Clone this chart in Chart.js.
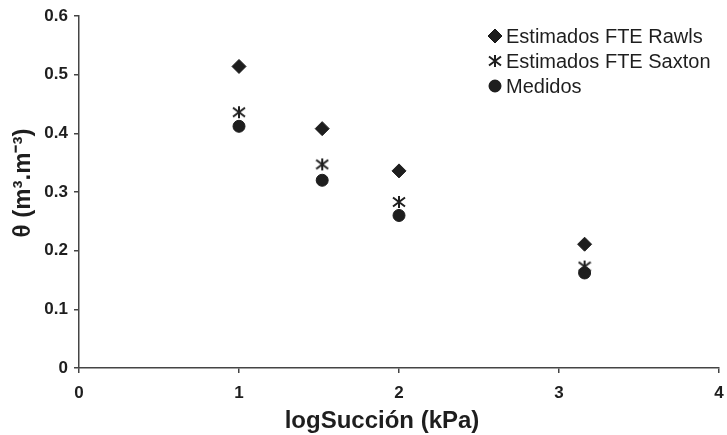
<!DOCTYPE html>
<html>
<head>
<meta charset="utf-8">
<script src="https://cdn.jsdelivr.net/npm/chart.js@4/dist/chart.umd.min.js"></script>
<style>
  html, body { margin: 0; padding: 0; background: #fff; }
  #wrap { width: 727px; height: 435px; }
</style>
</head>
<body>
<div id="wrap"><canvas id="chart" width="727" height="435"></canvas></div>
<script>
// valores
const suction = [1, 1.52, 2, 3.16];
const rawls = [0.514, 0.408, 0.336, 0.211];
const saxton = [0.436, 0.347, 0.283, 0.173];
const medidos = [0.412, 0.320, 0.260, 0.162];
const seriesNames = ['Estimados FTE Rawls', 'Estimados FTE Saxton', 'Medidos'];
const xTitle = 'logSucción (kPa)';
const yTitle = 'θ (m³.m⁻³)';

const ink = '#1e1e1e';

// asterisco: vertical + dos diagonales
function asterisk(size) {
    const c = document.createElement('canvas');
    c.width = size; c.height = size;
    const g = c.getContext('2d');
    g.strokeStyle = ink;
    g.lineWidth = 2;
    const m = size / 2, r = size / 2 - 1;
    g.beginPath();
    g.moveTo(m, m - r); g.lineTo(m, m + r);
    g.moveTo(m - r, m - r * 0.75); g.lineTo(m + r, m + r * 0.75);
    g.moveTo(m + r, m - r * 0.75); g.lineTo(m - r, m + r * 0.75);
    g.stroke();
    return c;
}
const star = asterisk(14);

function points(ys) {
    return suction.map((x, i) => ({ x: x, y: ys[i] }));
}

const styles = [
    { pointStyle: 'rectRot', radius: 7 },
    { pointStyle: star, radius: 7 },
    { pointStyle: 'circle', radius: 6 }
];

// leyenda y títulos dibujados a mano
const extras = {
    id: 'extras',
    afterDraw(chart) {
        const ctx = chart.ctx;
        ctx.save();
        ctx.fillStyle = ink;
        ctx.font = '20px "Liberation Sans", Arial, sans-serif';
        ctx.textBaseline = 'middle';
        const rows = [36, 61, 86];
        seriesNames.forEach((name, i) => {
            const st = styles[i];
            Chart.helpers.drawPoint(ctx, {
                pointStyle: st.pointStyle, radius: st.radius, borderWidth: 1, rotation: 0
            }, 495, rows[i]);
            ctx.fillStyle = ink;
            ctx.strokeStyle = ink;
            ctx.fill();
            ctx.fillText(name, 506, rows[i] + 1);
        });

        ctx.font = 'bold 24px "Liberation Sans", Arial, sans-serif';
        ctx.textAlign = 'center';
        ctx.fillText(xTitle, 382, 421);

        ctx.translate(23, 183);
        ctx.rotate(-Math.PI / 2);
        ctx.fillText(yTitle, 0, 0);
        ctx.restore();
    }
};

const tickFont = { family: '"Liberation Sans", Arial, sans-serif', size: 17, weight: 'bold' };

new Chart(document.getElementById('chart'), {
    type: 'scatter',
    data: {
        datasets: seriesNames.map((name, i) => ({
            label: name,
            data: points([rawls, saxton, medidos][i]),
            pointStyle: styles[i].pointStyle,
            pointRadius: styles[i].radius,
            pointHoverRadius: styles[i].radius,
            backgroundColor: ink,
            borderColor: ink,
            borderWidth: 1
        }))
    },
    options: {
        responsive: false,
        animation: false,
        layout: { padding: { top: 16, right: 8, left: 0, bottom: 0 } },
        plugins: {
            legend: { display: false },
            tooltip: { enabled: false }
        },
        scales: {
            x: {
                min: 0, max: 4,
                afterFit: s => { s.height = 67; s.paddingLeft = 0; s.paddingRight = 0; },
                ticks: { stepSize: 1, color: ink, font: tickFont, padding: 10, maxRotation: 0 },
                grid: { drawOnChartArea: false, tickLength: 5, color: '#444', lineWidth: 1.5 },
                border: { color: '#444', width: 1.5 }
            },
            y: {
                min: 0, max: 0.6,
                afterFit: s => { s.width = 79; s.paddingTop = 0; s.paddingBottom = 0; },
                ticks: { stepSize: 0.1, color: ink, font: tickFont, padding: 6 },
                grid: { drawOnChartArea: false, tickLength: 5, color: '#444', lineWidth: 1.5 },
                border: { color: '#444', width: 1.5 }
            }
        }
    },
    plugins: [extras]
});
</script>
</body>
</html>
